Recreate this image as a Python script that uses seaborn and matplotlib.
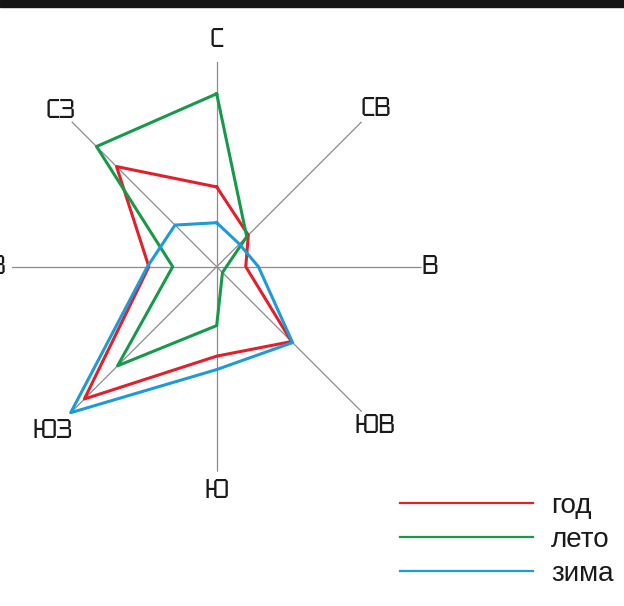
import numpy as np
import pandas as pd
import matplotlib
matplotlib.use('Agg')
import matplotlib.pyplot as plt
import seaborn as sns
from matplotlib.patches import Rectangle

# wind directions, clockwise from north
directions = ['С', 'СВ', 'В', 'ЮВ', 'Ю', 'ЮЗ', 'З', 'СЗ']
seasons = ['год', 'лето', 'зима']

# repeatability of winds, %
god = [10.7, 6.0, 3.9, 14.2, 12.0, 25.1, 9.1, 19.0]
leto = [23.2, 5.7, 1.3, 1.1, 7.9, 18.8, 5.9, 22.8]
zima = [5.9, 4.3, 5.6, 14.4, 13.8, 27.7, 9.3, 7.9]

colors = ['#e2202c', '#17994a', '#1e9ad8']
R_MAX = 27.5
# how far out each direction label sits (same units as r)
label_r = [30.5, 30.1, 28.6, 30.1, 30.0, 31.1, 29.4, 29.6]

angles = np.deg2rad(np.arange(0, 360, 45))

rows = []
for name, vals in zip(seasons, [god, leto, zima]):
    # close the polygon by repeating the first direction at 360 deg
    for th, v in zip(list(angles) + [2 * np.pi], vals + vals[:1]):
        rows.append({'theta': th, 'value': v, 'season': name})
df = pd.DataFrame(rows)

fig = plt.figure(figsize=(6.24, 6.06), dpi=100)
ax = fig.add_axes([0.01875, 0.2216, 0.657, 0.6766], projection='polar')
ax.set_theta_zero_location('N')
ax.set_theta_direction(-1)

sns.lineplot(
    data=df,
    x='theta',
    y='value',
    hue='season',
    hue_order=seasons,
    palette=colors,
    sort=False,
    estimator=None,
    lw=2.2,
    ax=ax,
)
for ln in ax.get_lines():
    ln.set_clip_on(False)

ax.set_ylim(0, R_MAX)
ax.set_yticks([])
ax.set_xticks(angles)
ax.set_xticklabels([])
ax.tick_params(length=0)
ax.xaxis.grid(True, color='#8c8c8c', lw=0.9)
ax.spines['polar'].set_visible(False)
ax.set_facecolor('none')
ax.set_xlabel('')
ax.set_ylabel('')

for th, lab, r in zip(angles, directions, label_r):
    ax.text(th, r, lab, ha='center', va='center', fontsize=18.5,
            family=['Tektur', 'DejaVu Sans'], color='#1a1a1a')

leg = ax.legend(
    loc='center left',
    bbox_to_anchor=(0.641, 0.109),
    bbox_transform=fig.transFigure,
    frameon=False,
    handlelength=4.8,
    handletextpad=0.64,
    labelspacing=0.29,
    borderpad=0,
    borderaxespad=0,
    title=None,
    prop={'family': ['Liberation Sans', 'DejaVu Sans'], 'size': 20},
)
for ln in leg.get_lines():
    ln.set_linewidth(1.6)
for t in leg.get_texts():
    t.set_color('#1a1a1a')

# dark strip across the top edge
fig.patches.append(Rectangle((0, 1 - 7.3 / 606), 1, 7.3 / 606,
                             transform=fig.transFigure, color='#141414'))

fig.savefig('out.png', dpi=100)
plt.close()
